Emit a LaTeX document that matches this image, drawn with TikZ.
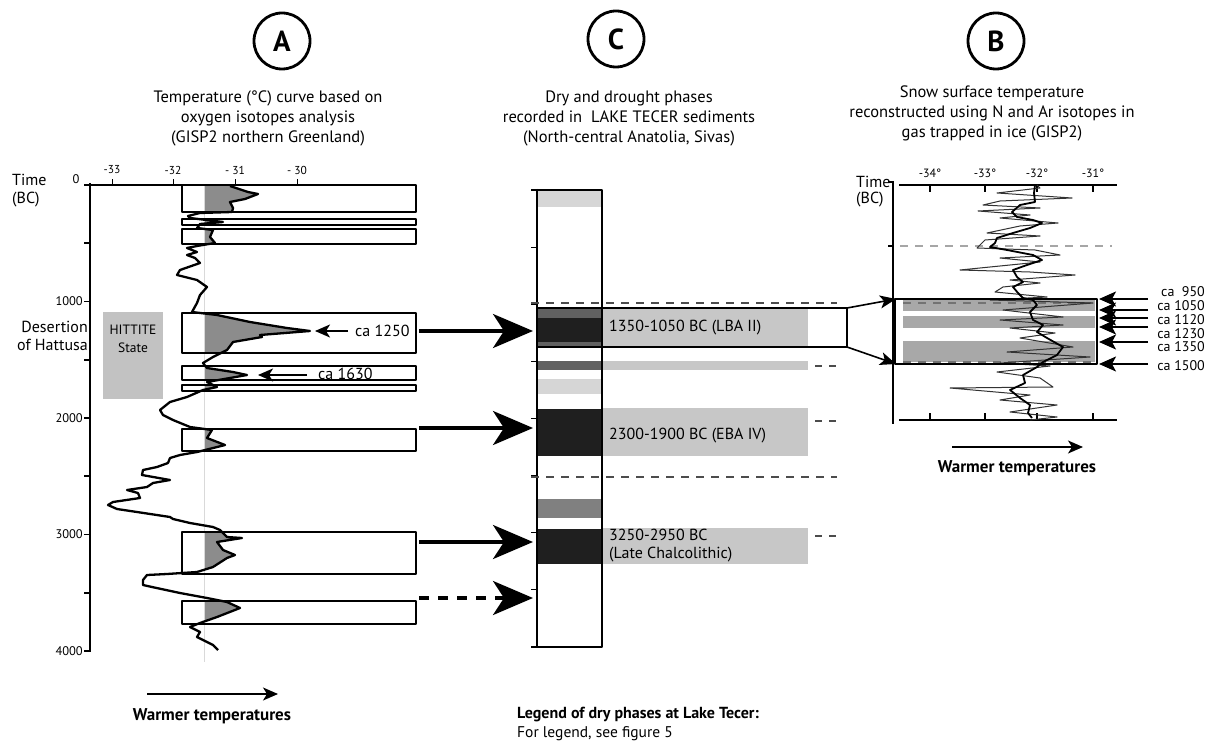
\documentclass[tikz,border=0pt]{standalone}
\usepackage{fontspec}
\setmainfont{PT Sans}
\usetikzlibrary{arrows.meta}

\definecolor{curvefill}{gray}{0.55}
\definecolor{hittite}{gray}{0.76}
\definecolor{darkphase}{gray}{0.12}
\definecolor{midphase}{gray}{0.38}
\definecolor{greyphase}{gray}{0.50}
\definecolor{lightphase}{gray}{0.84}
\definecolor{labelband}{gray}{0.78}
\definecolor{bband}{gray}{0.66}

\def\tempA{(230,186) -- (248,192) -- (258,194) -- (245,199) -- (230,202) -- (233,208) -- (232,212) -- (200,213) -- (188,216) -- (190,218) -- (223,222) -- (200,224) -- (197,228) -- (213,230) -- (210,237) -- (215,243) -- (197,246) -- (187,248) -- (197,252) -- (187,255) -- (195,258) -- (200,263) -- (180,270) -- (177,275) -- (197,280) -- (207,287) -- (200,295) -- (197,303) -- (192,312) -- (217,315) -- (250,322) -- (287,328) -- (310,331) -- (260,335) -- (262,337) -- (233,342) -- (227,350) -- (213,357) -- (203,363) -- (207,368) -- (233,372) -- (247,375) -- (230,378) -- (207,382) -- (217,387) -- (203,390) -- (187,397) -- (170,402) -- (160,410) -- (163,415) -- (173,420) -- (190,427) -- (212,430) -- (207,438) -- (225,445) -- (213,448) -- (197,452) -- (180,455) -- (170,458) -- (168,463) -- (157,467) -- (143,470) -- (142,475) -- (170,480) -- (153,483) -- (147,487) -- (127,490) -- (138,493) -- (140,498) -- (113,502) -- (108,505) -- (117,509) -- (137,512) -- (170,517) -- (173,519) -- (190,523) -- (213,527) -- (220,530) -- (227,537) -- (242,538) -- (217,542) -- (223,550) -- (235,555) -- (227,558) -- (213,567) -- (197,572) -- (167,574) -- (147,575) -- (143,580) -- (143,585) -- (152,587) -- (180,593) -- (207,598) -- (227,602) -- (240,608) -- (217,617) -- (200,623) -- (190,627) -- (200,632) -- (197,637) -- (213,645) -- (218,650)}

\def\tempBraw{(1037,185) -- (1040,188) -- (997,193) -- (1072,198) -- (1000,201) -- (983,205) -- (1040,208) -- (978,211) -- (1030,215) -- (1000,218) -- (1058,223) -- (1020,226) -- (987,233) -- (1040,236) -- (985,240) -- (977,248) -- (1035,250) -- (1060,255) -- (1000,258) -- (1040,262) -- (960,270) -- (1030,272) -- (1075,275) -- (1010,280) -- (1040,283) -- (1003,287) -- (995,292) -- (1047,297) -- (990,300) -- (1093,303) -- (1003,310) -- (1063,317) -- (1000,320) -- (1063,325) -- (1010,328) -- (1055,333) -- (1020,338) -- (1073,347) -- (1007,352) -- (1090,357) -- (1000,363) -- (1050,366) -- (997,372) -- (1040,378) -- (1053,387) -- (950,388) -- (1030,395) -- (1000,400) -- (1057,405) -- (1010,412) -- (1057,417) -- (1030,420)}

\def\tempBmean{(1035,185) -- (1034,193) -- (1035,202) -- (1020,205) -- (1012,212) -- (1017,217) -- (1033,220) -- (1042,223) -- (1030,228) -- (1013,233) -- (997,238) -- (995,243) -- (990,247) -- (1007,250) -- (1033,255) -- (1042,260) -- (1027,265) -- (1013,270) -- (1017,277) -- (1023,282) -- (1013,287) -- (1018,293) -- (1023,298) -- (1033,300) -- (1037,305) -- (1030,312) -- (1033,320) -- (1043,325) -- (1037,332) -- (1047,338) -- (1063,347) -- (1057,355) -- (1043,362) -- (1037,367) -- (1023,375) -- (1025,383) -- (1010,390) -- (1020,398) -- (1030,405) -- (1028,413) -- (1032,418)}

\begin{document}
\begin{tikzpicture}[x=1pt, y=-1pt, line join=round,
    lbl/.style={inner sep=0pt, font=\fontsize{16}{18}\selectfont},
    ttl/.style={inner sep=0pt, align=center, font=\fontsize{16.5}{20}\selectfont},
    ticklbl/.style={inner sep=0pt, font=\fontsize{12.5}{13}\selectfont},
    panel/.style={draw, circle, line width=2.8pt, minimum size=56pt, inner sep=0pt, font=\bfseries\fontsize{29}{29}\selectfont},
    warm/.style={inner sep=0pt, font=\bfseries\fontsize{17}{18}\selectfont},
    bigarrow/.style={line width=3.6pt, -{Stealth[length=40pt, width=34pt, inset=11pt]}},
    smallarrow/.style={line width=1.6pt, -{Stealth[length=15pt, width=13pt, inset=4pt]}},
    abox/.style={draw, line width=1.3pt},
    dashline/.style={line width=1.2pt, dash pattern=on 8pt off 7pt}]
    \useasboundingbox (0,0) rectangle (1217,743);

    % panel A
    \node[panel]                    (circA)  at (282, 41)  {A};
    \node[ttl]                      (titA)   at (268,118)  {Temperature (°C) curve based on\\oxygen isotopes analysis\\(GISP2 northern Greenland)};
    \node[lbl, anchor=west]         (timeA)  at ( 12,180)  {Time};
    \node[lbl, anchor=west]         (bcA)    at ( 12,200)  {(BC)};
    \node[lbl, align=right, anchor=east] (desert) at (88,336) {Desertion\\of Hattusa};
    \node[ticklbl]                  (t0)     at ( 76,179)  {0};
    \foreach \v/\y in {1000/301.5, 2000/418, 3000/534.5, 4000/651}
        \node[ticklbl, anchor=east] (t\v) at (83,\y) {\v};

    \draw[line width=2pt] (90,183) -- (90,652);
    \foreach \k in {0,...,8}
        \draw[line width=1.6pt] (84,185+58.25*\k) -- (90,185+58.25*\k);
    \draw[line width=1.2pt] (90,185) -- (330,185);
    \foreach \x/\t [count=\i] in {112/-33, 173/-32, 235/- 31, 297/- 30} {
        \draw[line width=1pt] (\x,185) -- (\x,179);
        \node[ticklbl, font=\fontsize{11.5}{12}\selectfont] (ta\i) at (\x,170) {\t};
    }

    \fill[hittite] (103,312) rectangle (163,399);
    \node[lbl, align=center, font=\fontsize{13.5}{18}\selectfont] (hitt) at (133,339) {HITTITE\\State};

    \begin{scope}
        \clip \foreach \a/\b in {185/212, 219/225, 229/244, 313/353, 366/380, 385/391, 429/451, 532/574, 601/624} {(204,\a) rectangle (416,\b)};
        \fill[curvefill] \tempA -- (204,650) -- (204,186) -- cycle;
    \end{scope}
    \draw[gray!30, line width=1pt] (204,185) -- (204,662);
    \foreach \a/\b in {185/212, 219/225, 229/244, 366/380, 385/391, 429/451, 532/574, 601/624}
        \draw[abox] (182,\a) rectangle (416,\b);
    \draw[abox, line width=2.3pt] (182,313) rectangle (416,353);
    \draw[line width=2.3pt] \tempA;

    \node[lbl, anchor=west]         (ca1250) at (355,331)  {ca 1250};
    \node[lbl, anchor=west]         (ca1630) at (318,374)  {ca 1630};
    \coordinate (pk1250) at (315,331);
    \coordinate (pk1630) at (258,375);
    \draw[smallarrow] ([xshift=-7pt]ca1250.west) -- (pk1250);
    \draw[smallarrow] ([xshift=-11pt, yshift=-1pt]ca1630.west) -- (pk1630);

    \node[warm]                     (warmA)  at (212,716)  {Warmer temperatures};
    \coordinate (wA0) at (147,694);
    \coordinate (wA1) at (278,694);
    \draw[smallarrow, line width=1.5pt] (wA0) -- (wA1);

    % panel C
    \node[panel]                    (circC)  at (616, 39)  {C};
    \node[ttl]                      (titC)   at (629,118)  {Dry and drought phases\\recorded in\ \ LAKE TECER sediments\\(North-central Anatolia, Sivas)};

    \fill[lightphase] (537,190) rectangle (602,207);
    \fill[midphase]   (537,309) rectangle (602,318);
    \fill[darkphase]  (537,318) rectangle (602,342);
    \fill[midphase]   (537,342) rectangle (602,347);
    \fill[labelband]  (602,309) rectangle (808,346);
    \fill[midphase]   (537,361) rectangle (602,370);
    \fill[labelband]  (602,361) rectangle (808,370);
    \fill[lightphase] (537,379) rectangle (602,394);
    \fill[darkphase]  (537,409) rectangle (602,456);
    \fill[labelband]  (602,408) rectangle (808,456);
    \fill[greyphase]  (537,499) rectangle (602,518);
    \fill[darkphase]  (537,529) rectangle (602,564);
    \fill[labelband]  (602,528) rectangle (808,564);

    \draw[line width=1.5pt] (537,190) rectangle (602,647);
    \draw[line width=2.8pt] (537,189) -- (537,648);
    \foreach \k in {0,...,8}
        \draw[line width=1.2pt] (531,190+57.125*\k) -- (537,190+57.125*\k);
    \draw[dashline, black!70] (531,303) -- (837,303);
    \draw[dashline, black!70] (531,477) -- (837,477);
    \foreach \y in {366, 421, 536}
        \draw[dashline, black!70, dash pattern=on 7pt off 7pt] (815,\y) -- (837,\y);

    \node[lbl, anchor=west]         (lba)    at (609,328)  {1350-1050 BC (LBA II)};
    \node[lbl, anchor=west]         (eba)    at (609,436)  {2300-1900 BC (EBA IV)};
    \node[lbl, anchor=west, align=left] (chalco) at (609,546) {3250-2950 BC\\(Late Chalcolithic)};
    \draw[line width=1.8pt] (537,308) rectangle (847,347);

    \foreach \y [count=\i] in {331, 428, 542} {
        \coordinate (fromA\i) at (419,\y);
        \coordinate (toC\i)   at (533,\y);
        \draw[bigarrow] (fromA\i) -- (toC\i);
    }
    \coordinate (fromA4) at (419,598);
    \coordinate (toC4)   at (533,598);
    \draw[bigarrow, dash pattern=on 10pt off 9pt] (fromA4) -- (toC4);

    \node[warm, anchor=west, font=\bfseries\fontsize{16}{18}\selectfont] (legend) at (517,715) {Legend of dry phases at Lake Tecer:};
    \node[lbl, anchor=west, font=\fontsize{15.5}{17}\selectfont] (legsee) at (517,734) {For legend, see figure 5};

    % panel B
    \node[panel]                    (circB)  at (996, 41)  {B};
    \node[ttl]                      (titB)   at (992,113)  {Snow surface temperature\\reconstructed using N and Ar isotopes in\\gas trapped in ice (GISP2)};
    \node[lbl, anchor=west]         (timeB)  at (856,182)  {Time};
    \node[lbl, anchor=west]         (bcB)    at (856,200)  {(BC)};

    \fill[bband] (903,300) rectangle (1095,311);
    \fill[bband] (903,316) rectangle (1095,328);
    \fill[bband] (903,341) rectangle (1095,362);
    \draw[dashline, gray!70, line width=1.5pt] (900,246) -- (1112,246);
    \draw[dashline, black!55] (903,303) -- (1095,303);
    \draw[dashline, black!55] (903,362) -- (1095,362);

    \draw[line width=1.8pt] (893,181) -- (893,424);
    \draw[line width=1.4pt] (888,182) -- (893,182);
    \draw[line width=1.4pt] (888,246) -- (893,246);
    \draw[line width=1.8pt] (899,185) -- (1117,185);
    \draw[line width=1.8pt] (899,420) -- (1117,420);
    \foreach \x/\t [count=\i] in {930/-34°, 985/-33°, 1037/-32°, 1093/-31°} {
        \draw[line width=1.4pt] (\x,185) -- (\x,192);
        \draw[line width=1.4pt] (\x,420) -- (\x,413);
        \node[ticklbl, font=\fontsize{12}{12}\selectfont] (tb\i) at (\x,173) {\t};
    }

    \draw[black!80, line width=1pt] \tempBraw;
    \draw[line width=1.8pt] \tempBmean;
    \draw[line width=2pt] (895,299) rectangle (1097,364);

    \foreach \y/\t/\ly [count=\i] in {299/ca\ \ 950/292, 310/ca 1050/306, 318/ca 1120/320, 327/ca 1230/333.5, 342/ca 1350/347, 364/ca 1500/366} {
        \node[lbl, anchor=east, font=\fontsize{14}{15}\selectfont] (ca\i) at (1205,\ly) {\t};
        \coordinate (tailB\i) at (1148,\y);
        \coordinate (tipB\i)  at (1099,\y);
        \draw[smallarrow, -{Stealth[length=17pt, width=15pt, inset=4pt]}] (tailB\i) -- (tipB\i);
    }

    \coordinate (lbaTop) at (847,308);
    \coordinate (lbaBot) at (847,347);
    \coordinate (bTop)   at (896,299);
    \coordinate (bBot)   at (896,364);
    \draw[smallarrow, -{Stealth[length=16pt, width=13pt, inset=4pt]}] (lbaTop) -- (bTop);
    \draw[smallarrow, -{Stealth[length=16pt, width=13pt, inset=4pt]}] (lbaBot) -- (bBot);

    \node[warm]                     (warmB)  at (1017,468) {Warmer temperatures};
    \coordinate (wB0) at (952,447);
    \coordinate (wB1) at (1083,447);
    \draw[smallarrow, line width=1.5pt] (wB0) -- (wB1);
\end{tikzpicture}
\end{document}
